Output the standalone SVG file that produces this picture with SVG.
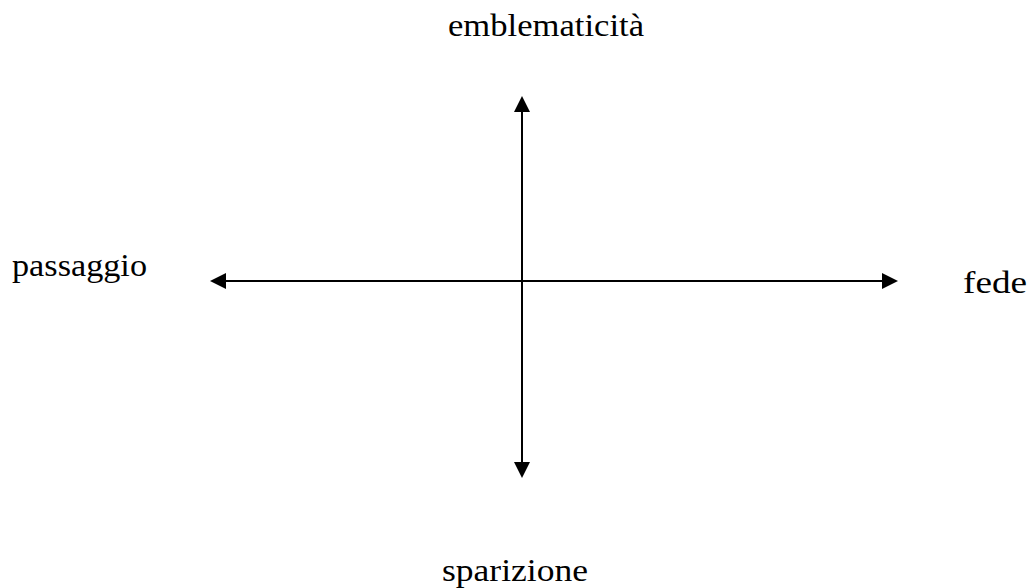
<svg xmlns="http://www.w3.org/2000/svg" width="1029" height="588" viewBox="0 0 1029 588">
  <style>
    .lbl { font-family: "Liberation Serif", "DejaVu Serif", serif; font-size: 32px; fill: #000; }
    .axis { stroke: #000; stroke-width: 2; fill: none; }
  </style>
  <defs>
    <marker id="ah" viewBox="0 0 16 16" refX="0" refY="8" markerWidth="16" markerHeight="16" markerUnits="userSpaceOnUse" orient="auto-start-reverse">
      <path d="M0,0 L16,8 L0,16 Z" fill="#000"/>
    </marker>
  </defs>
  <rect width="1029" height="588" fill="#fff"/>
  <g id="connectors">
    <line class="axis" x1="522" y1="112" x2="522" y2="462" marker-start="url(#ah)" marker-end="url(#ah)"/>
    <line class="axis" x1="226" y1="281" x2="882" y2="281" marker-start="url(#ah)" marker-end="url(#ah)"/>
  </g>
  <g id="node-emblematicita">
    <text class="lbl" x="448" y="36" textLength="196" lengthAdjust="spacingAndGlyphs">emblematicità</text>
  </g>
  <g id="node-passaggio">
    <text class="lbl" x="12" y="276" textLength="135" lengthAdjust="spacingAndGlyphs">passaggio</text>
  </g>
  <g id="node-fede">
    <text class="lbl" x="963" y="293" textLength="64" lengthAdjust="spacingAndGlyphs">fede</text>
  </g>
  <g id="node-sparizione">
    <text class="lbl" x="442" y="581" textLength="146" lengthAdjust="spacingAndGlyphs">sparizione</text>
  </g>
</svg>
